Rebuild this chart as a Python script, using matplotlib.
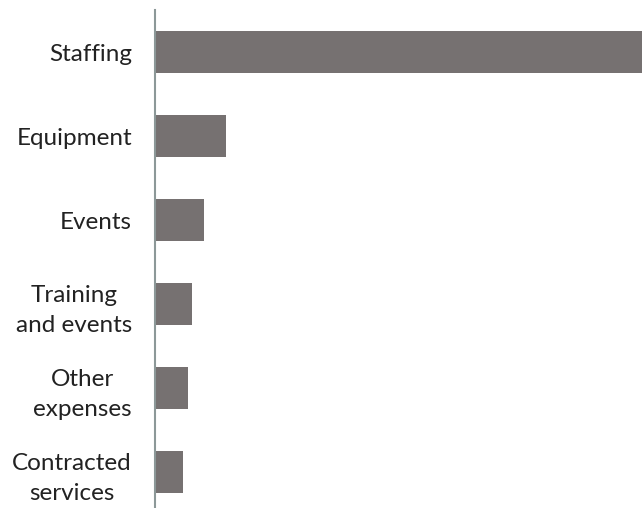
import matplotlib.pyplot as plt

# categories, top to bottom
categories = ["Staffing", "Equipment", "Events", "Training\nand events",
              "Other\nexpenses", "Contracted\nservices"]
values = [70, 10.1, 7.0, 5.2, 4.7, 3.95]

plt.rcParams['font.family'] = ['Lato', 'DejaVu Sans']

fig = plt.figure(figsize=(6.42, 5.08), dpi=100)
ax = fig.add_axes([0.2422, -0.0118, 0.7578, 0.9921])

pos = list(range(len(categories)))
ax.barh(pos, values, height=0.5, color="#767171")
ax.set_ylim(len(categories) - 0.5, -0.5)
ax.set_xlim(0, 70)

ax.set_yticks(pos)
ax.set_yticklabels(categories, fontsize=17.5, color="#222222",
                   multialignment="center", linespacing=1.55)
ax.tick_params(axis="y", length=0, pad=17)
ax.set_xticks([])

for s in ["top", "right", "bottom"]:
    ax.spines[s].set_visible(False)
ax.spines["left"].set_color("#8c9898")
ax.spines["left"].set_linewidth(1.5)

fig.savefig("out.png", dpi=100)
